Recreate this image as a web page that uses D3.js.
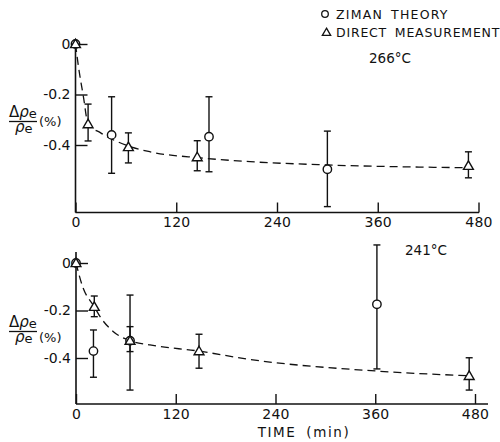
<!DOCTYPE html>
<html><head><meta charset="utf-8">
<script src="https://cdn.jsdelivr.net/npm/d3@7/dist/d3.min.js"></script>
<style>
html,body{margin:0;padding:0;background:#fff;}
svg{display:block;}
text{font-family:"DejaVu Sans",sans-serif;fill:#111;}
</style></head>
<body>
<svg id="chart" width="500" height="442"></svg>
<script>
// ---- data ----
const xTicks = [0, 120, 240, 360, 480];
const yTicks = [0, -0.2, -0.4];
const yTickLabels = ["0", "-0.2", "-0.4"];

// 266°C panel
const topTriT   = [0, 15, 63, 145, 468];
const topTriV   = [0, -0.317, -0.408, -0.448, -0.482];
const topTriLo  = [0, -0.384, -0.471, -0.502, -0.530];
const topTriHi  = [0, -0.238, -0.352, -0.383, -0.427];
const topCirT   = [0, 43, 159, 300];
const topCirV   = [0, -0.360, -0.367, -0.496];
const topCirLo  = [0, -0.512, -0.506, -0.644];
const topCirHi  = [0, -0.209, -0.209, -0.345];
const topCurveT = [0, 3.6, 9.5, 15, 30, 63, 89, 149, 208, 300, 468];
const topCurveV = [0, -0.091, -0.21, -0.317, -0.352, -0.404, -0.427, -0.451, -0.466, -0.479, -0.490];

// 241°C panel
const botTriT   = [0, 22, 65, 148, 473];
const botTriV   = [0, -0.184, -0.327, -0.371, -0.475];
const botTriLo  = [0, -0.226, -0.373, -0.443, -0.535];
const botTriHi  = [0, -0.139, -0.268, -0.300, -0.399];
const botCirT   = [0, 21, 65, 362];
const botCirV   = [0, -0.371, -0.327, -0.174];
const botCirLo  = [0, -0.481, -0.535, -0.446];
const botCirHi  = [0, -0.282, -0.135, 0.076];
const botCurveT = [0, 8, 22, 29, 45, 65, 89, 148, 207, 362, 473];
const botCurveV = [0, -0.10, -0.184, -0.226, -0.289, -0.327, -0.345, -0.371, -0.405, -0.455, -0.475];

const ink = "#111";
const svg = d3.select("#chart");
svg.append("rect").attr("width",500).attr("height",442).attr("fill","#fff");

function zip(t, v, lo, hi){ return t.map((d,i)=>({t:d, v:v[i], lo:lo?lo[i]:null, hi:hi?hi[i]:null})); }

function panel(cfg){
  const x = d3.scaleLinear().domain([0,480]).range(cfg.xr);
  const y = d3.scaleLinear().domain([0,-0.4]).range(cfg.yr);
  const g = svg.append("g");
  // axis lines
  g.append("line").attr("x1",x(0)).attr("x2",x(0)).attr("y1",cfg.yTop).attr("y2",cfg.xAxisY)
    .attr("stroke",ink).attr("stroke-width",1.6);
  g.append("line").attr("x1",x(0)).attr("x2",cfg.xEnd).attr("y1",cfg.xAxisY).attr("y2",cfg.xAxisY)
    .attr("stroke",ink).attr("stroke-width",1.6);
  // y axis ticks (inward)
  const ya = g.append("g").attr("transform",`translate(${x(0)},0)`)
    .call(d3.axisLeft(y).tickValues(yTicks).tickSize(-12).tickSizeOuter(0).tickPadding(5)
      .tickFormat((d,i)=>yTickLabels[i]));
  ya.select(".domain").remove();
  ya.selectAll(".tick line").attr("stroke",ink).attr("stroke-width",1.4);
  ya.selectAll(".tick text").attr("font-size",14).attr("font-family","DejaVu Sans").attr("fill",ink);
  // x axis ticks (inward)
  const xa = g.append("g").attr("transform",`translate(0,${cfg.xAxisY})`)
    .call(d3.axisBottom(x).tickValues(xTicks).tickSize(-10).tickSizeOuter(0).tickPadding(5));
  xa.select(".domain").remove();
  xa.selectAll(".tick line").attr("stroke",ink).attr("stroke-width",1.4);
  xa.selectAll(".tick text").attr("font-size",14).attr("font-family","DejaVu Sans").attr("fill",ink)
    .attr("letter-spacing",0.3);
  // curve
  const line = d3.line().x(d=>x(d.t)).y(d=>y(d.v)).curve(d3.curveMonotoneX);
  g.append("path").datum(zip(cfg.curveT,cfg.curveV)).attr("d",line)
    .attr("fill","none").attr("stroke",ink).attr("stroke-width",1.3).attr("stroke-dasharray","8,5");
  // error bars
  const errs = zip(cfg.cirT,cfg.cirV,cfg.cirLo,cfg.cirHi).concat(zip(cfg.triT,cfg.triV,cfg.triLo,cfg.triHi))
    .filter(d=>d.t>0);
  const eb = g.append("g").attr("stroke",ink).attr("stroke-width",1.4);
  errs.forEach(d=>{
    eb.append("line").attr("x1",x(d.t)).attr("x2",x(d.t)).attr("y1",y(d.lo)).attr("y2",y(d.hi));
    eb.append("line").attr("x1",x(d.t)-3.5).attr("x2",x(d.t)+3.5).attr("y1",y(d.lo)).attr("y2",y(d.lo));
    eb.append("line").attr("x1",x(d.t)-3.5).attr("x2",x(d.t)+3.5).attr("y1",y(d.hi)).attr("y2",y(d.hi));
  });
  // markers
  const tri = d3.symbol().type(d3.symbolTriangle).size(42);
  g.selectAll(".cir").data(zip(cfg.cirT,cfg.cirV)).enter().append("circle")
    .attr("cx",d=>x(d.t)).attr("cy",d=>y(d.v)).attr("r",4.2)
    .attr("fill","#fff").attr("stroke",ink).attr("stroke-width",1.4);
  g.selectAll(".tri").data(zip(cfg.triT,cfg.triV)).enter().append("path")
    .attr("d",tri).attr("transform",d=>`translate(${x(d.t)},${y(d.v)+0.8})`)
    .attr("fill","#fff").attr("stroke",ink).attr("stroke-width",1.4);
  // y label
  const ly = cfg.labelY;
  const num = g.append("text").attr("x",9).attr("y",ly-5).attr("font-size",15);
  num.append("tspan").text("Δ");
  num.append("tspan").attr("font-style","italic").text("ρ");
  num.append("tspan").attr("font-size",13).attr("dy",1).text("e");
  g.append("line").attr("x1",9).attr("x2",37).attr("y1",ly).attr("y2",ly).attr("stroke",ink).attr("stroke-width",1.3);
  const den = g.append("text").attr("x",15).attr("y",ly+10).attr("font-size",15);
  den.append("tspan").attr("font-style","italic").text("ρ");
  den.append("tspan").attr("font-size",13).attr("dy",1).text("e");
  g.append("text").attr("x",39).attr("y",ly+cfg.pctDy).attr("font-size",13).text("(%)");
  // temperature label
  g.append("text").attr("x",cfg.tempX).attr("y",cfg.tempY).attr("text-anchor","middle")
    .attr("font-size",13.5).text(cfg.temp);
  return {x,y};
}

panel({xr:[75.5,478.5], yr:[44,145], yTop:41, xAxisY:212.5, xEnd:479,
  triT:topTriT, triV:topTriV, triLo:topTriLo, triHi:topTriHi,
  cirT:topCirT, cirV:topCirV, cirLo:topCirLo, cirHi:topCirHi,
  curveT:topCurveT, curveV:topCurveV, labelY:121.5, pctDy:4.5,
  temp:"266°C", tempX:390, tempY:63});

panel({xr:[76,475], yr:[263,358], yTop:252, xAxisY:404, xEnd:488,
  triT:botTriT, triV:botTriV, triLo:botTriLo, triHi:botTriHi,
  cirT:botCirT, cirV:botCirV, cirLo:botCirLo, cirHi:botCirHi,
  curveT:botCurveT, curveV:botCurveV, labelY:331.5, pctDy:10,
  temp:"241°C", tempX:426, tempY:255});

// legend
svg.append("circle").attr("cx",325).attr("cy",14).attr("r",3.3).attr("fill","#fff").attr("stroke",ink).attr("stroke-width",1.3);
svg.append("text").attr("x",336).attr("y",18.5).attr("font-size",12.5).attr("letter-spacing",1.2).attr("word-spacing",3)
  .text("ZIMAN THEORY");
svg.append("path").attr("d",d3.symbol().type(d3.symbolTriangle).size(30)).attr("transform","translate(326.5,33)")
  .attr("fill","#fff").attr("stroke",ink).attr("stroke-width",1.3);
svg.append("text").attr("x",336).attr("y",37).attr("font-size",12.5).attr("letter-spacing",0.8).attr("word-spacing",3)
  .text("DIRECT MEASUREMENT");

// x axis title
svg.append("text").attr("x",304).attr("y",437).attr("text-anchor","middle").attr("font-size",13.5)
  .attr("letter-spacing",1.6).attr("word-spacing",4).text("TIME (min)");
</script>
</body></html>
